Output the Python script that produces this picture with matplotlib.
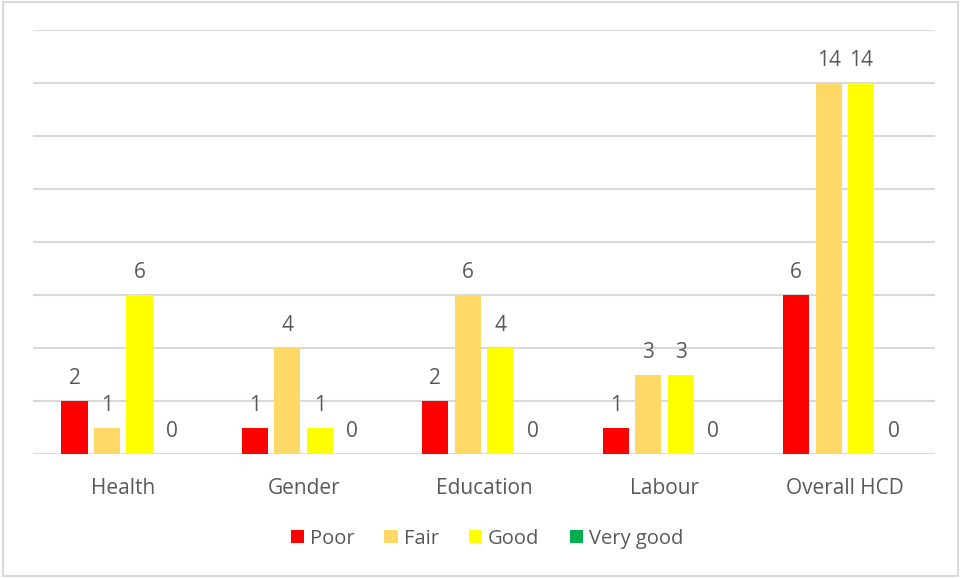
import matplotlib.pyplot as plt
import numpy as np
from matplotlib.patches import Rectangle

categories = ['Health', 'Gender', 'Education', 'Labour', 'Overall HCD']
series = ['Poor', 'Fair', 'Good', 'Very good']
poor = [2, 1, 2, 1, 6]
fair = [1, 4, 6, 3, 14]
good = [6, 1, 4, 3, 14]
very_good = [0, 0, 0, 0, 0]
colors = ['#FF0000', '#FFD966', '#FFFF00', '#00B050']

plt.rcParams['font.family'] = ['Open Sans', 'DejaVu Sans']
text_color = '#595959'

fig = plt.figure(figsize = (9.62, 5.78), dpi = 100)
ax = fig.add_axes([0.0343, 0.2145, 0.9377, 0.7335])

x = np.arange(len(categories))
width = 0.145
step = 0.18
for i, (name, vals, col) in enumerate(zip(series, [poor, fair, good, very_good], colors)):
    pos = x + (i - 1.5) * step
    ax.bar(pos, vals, width = width, color = col, label = name, zorder = 2)
    for p, v in zip(pos, vals):
        ax.text(p, v + 0.45, str(v), ha = 'center', va = 'bottom',
                fontsize = 15, color = text_color)

ax.set_xlim(-0.5, len(categories) - 0.5)
ax.set_ylim(0, 16)
ax.set_yticks(np.arange(0, 17, 2))
ax.yaxis.grid(True, color = '#D9D9D9', lw = 1.5, zorder = 0)
ax.tick_params(axis = 'y', left = False, labelleft = False)
ax.tick_params(axis = 'x', length = 0, pad = 17, labelsize = 15, labelcolor = text_color)
ax.set_xticks(x)
ax.set_xticklabels(categories)
for s in ax.spines.values():
    s.set_visible(False)

fig.legend(loc = 'center', bbox_to_anchor = (0.506, 0.068), ncol = 4, frameon = False,
           fontsize = 14.5, labelcolor = text_color, handlelength = 0.65, handleheight = 0.65,
           handletextpad = 0.3, columnspacing = 1.5)

fig.patches.append(Rectangle((0.003, 0.004), 0.993, 0.992, transform = fig.transFigure,
                             fill = False, edgecolor = '#D9D9D9', lw = 1.5))

plt.savefig('out.png')
plt.close()
